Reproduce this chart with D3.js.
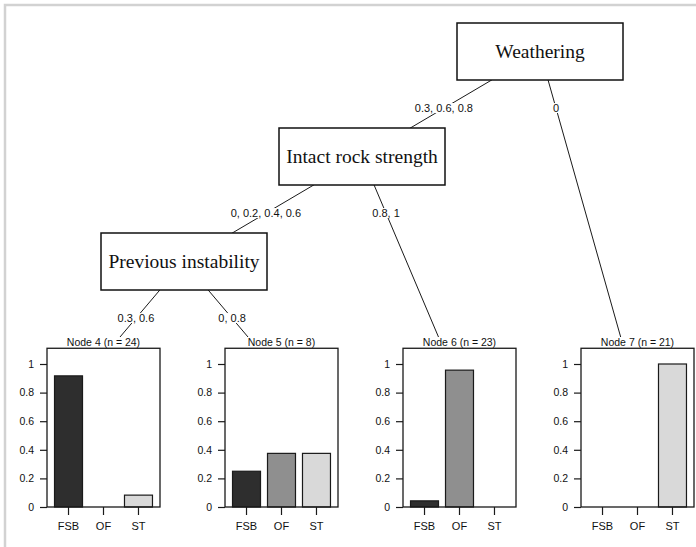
<!DOCTYPE html>
<html>
<head>
<meta charset="utf-8">
<script src="https://cdn.jsdelivr.net/npm/d3@7"></script>
<style>
	body { margin: 0; background: #fff; }
	svg { display: block; }
	.edgeLabel, .tick text, .nodeTitle { font-family: "Liberation Sans", Arial, sans-serif; fill: #111; }
	.splitName { font-family: "Liberation Serif", "Times New Roman", serif; fill: #111; }
</style>
</head>
<body>
<div id="chart"></div>
<script>
// split variables and edge labels (left / right kid of each inner node)
var splitVars = ["Weathering", "Intact rock strength", "Previous instability"];
var leftLabels = ["0.3, 0.6, 0.8", "0, 0.2, 0.4, 0.6", "0.3, 0.6"];
var rightLabels = ["0", "0.8, 1", "0, 0.8"];

// terminal nodes
var classes = ["FSB", "OF", "ST"];
var terminalIds = [4, 5, 6, 7];
var terminalN = [24, 8, 23, 21];
var fsbProp = [0.917, 0.25, 0.043, 0];
var ofProp = [0, 0.375, 0.957, 0];
var stProp = [0.083, 0.375, 0, 1];
var yTicks = [0, 0.2, 0.4, 0.6, 0.8, 1];

var width = 696,
	height = 547;

var boxW = 166,
	boxH = 57;

var color = d3.scaleOrdinal()
	.domain(classes)
	.range(["#2e2e2e", "#8f8f8f", "#d9d9d9"]);

// tree built from the arrays above
var treeData = {name: splitVars[0], children: [
	{edge: leftLabels[0], name: splitVars[1], children: [
		{edge: leftLabels[1], name: splitVars[2], children: [
			{edge: leftLabels[2], leaf: 0},
			{edge: rightLabels[2], leaf: 1}
		]},
		{edge: rightLabels[1], leaf: 2}
	]},
	{edge: rightLabels[0], leaf: 3}
]};

var root = d3.hierarchy(treeData);
var nLeaves = root.leaves().length;

// horizontal units = terminal nodes, vertical units = tree levels
var xUnit = d3.scaleLinear().domain([0, nLeaves]).range([6, 718]);
var yLevel = d3.scaleLinear().domain([0, 3]).range([51.5, 366.5]);

// position nodes the way partykit does
function place(node, x0, x1) {
	var kids = node.children;
	if (!kids) {
		node.ux = (x0 + x1) / 2;
		node.uy = 3;
		return;
	}
	var w = kids.map(function(k) { return k.leaves().length; });
	var total = d3.sum(w);
	node.ux = x0 + w[0] / total * (x1 - x0);
	node.uy = node.depth;
	var start = x0;
	kids.forEach(function(k, i) {
		var end = start + w[i] / total * (x1 - x0);
		place(k, start, end);
		start = end;
	});
}
place(root, 0, nLeaves);

var svg = d3.select('#chart').append('svg')
	.attr('width', width)
	.attr('height', height);

var links = root.links();

// edges
svg.append('g').selectAll('line')
	.data(links)
	.enter().append('line')
	.attr('x1', function(d) { return xUnit(d.source.ux); })
	.attr('y1', function(d) { return yLevel(d.source.uy); })
	.attr('x2', function(d) { return xUnit(d.target.ux); })
	.attr('y2', function(d) { return yLevel(d.target.uy); })
	.attr('stroke', '#1a1a1a')
	.attr('stroke-width', 1);

// white terminal viewports hide the ends of the edges
var leaves = root.leaves();
var panelTop = 337;
svg.append('g').selectAll('rect')
	.data(leaves)
	.enter().append('rect')
	.attr('x', function(d) { return xUnit(d.ux - 0.5); })
	.attr('y', panelTop)
	.attr('width', xUnit(1) - xUnit(0))
	.attr('height', height - panelTop)
	.attr('fill', '#fff');

// edge labels
var labels = svg.append('g').selectAll('g')
	.data(links)
	.enter().append('g')
	.attr('transform', function(d) {
		var x0 = xUnit(d.source.ux), y0 = yLevel(d.source.uy);
		var x1 = xUnit(d.target.ux), y1 = yLevel(d.target.uy);
		var yl = yLevel(d.source.uy + 0.54);
		var xl = x0 + (x1 - x0) * (yl - y0) / (y1 - y0);
		return 'translate(' + xl + ',' + yl + ')';
	});

labels.append('text')
	.attr('class', 'edgeLabel')
	.attr('text-anchor', 'middle')
	.attr('dy', '0.35em')
	.style('font-size', '11px')
	.text(function(d) { return d.target.data.edge; });

labels.each(function() {
	var g = d3.select(this);
	var bb = g.select('text').node().getBBox();
	g.insert('rect', 'text')
		.attr('x', bb.x - 1)
		.attr('y', bb.y + 1)
		.attr('width', bb.width + 2)
		.attr('height', bb.height - 2)
		.attr('fill', '#fff');
});

// inner nodes
var inner = svg.append('g').selectAll('g')
	.data(root.descendants().filter(function(d) { return d.children; }))
	.enter().append('g')
	.attr('transform', function(d) {
		return 'translate(' + xUnit(d.ux) + ',' + yLevel(d.uy) + ')';
	});

inner.append('rect')
	.attr('x', -boxW / 2)
	.attr('y', -boxH / 2)
	.attr('width', boxW)
	.attr('height', boxH)
	.attr('fill', '#fff')
	.attr('stroke', '#111')
	.attr('stroke-width', 1.5);

inner.append('text')
	.attr('class', 'splitName')
	.attr('text-anchor', 'middle')
	.attr('dy', '0.32em')
	.style('font-size', '19.5px')
	.text(function(d) { return d.data.name; });

// terminal bar plots
var yBar = d3.scaleLinear().domain([0, 1]).range([507, 364]);
var boxTop = yBar(1.11);

leaves.forEach(function(leaf) {
	var i = leaf.data.leaf;
	var left = xUnit(leaf.ux - 0.5) + 41,
		right = xUnit(leaf.ux - 0.5) + 154;
	var props = [fsbProp[i], ofProp[i], stProp[i]];

	var xBand = d3.scaleBand()
		.domain(classes)
		.range([left, right])
		.paddingInner(0.2)
		.paddingOuter(0.215);

	var panel = svg.append('g');

	panel.append('text')
		.attr('class', 'nodeTitle')
		.attr('x', (left + right) / 2)
		.attr('y', boxTop - 2)
		.attr('text-anchor', 'middle')
		.style('font-size', '10.5px')
		.text('Node ' + terminalIds[i] + ' (n = ' + terminalN[i] + ')');

	panel.selectAll('.bar')
		.data(props)
		.enter().append('rect')
		.attr('class', 'bar')
		.attr('x', function(d, j) { return xBand(classes[j]); })
		.attr('y', function(d) { return yBar(d); })
		.attr('width', xBand.bandwidth())
		.attr('height', function(d) { return yBar(0) - yBar(d); })
		.attr('fill', function(d, j) { return color(classes[j]); })
		.attr('stroke', function(d) { return d > 0 ? '#1a1a1a' : 'none'; })
		.attr('stroke-width', 1.2);

	panel.append('rect')
		.attr('x', left)
		.attr('y', boxTop)
		.attr('width', right - left)
		.attr('height', yBar(0) - boxTop)
		.attr('fill', 'none')
		.attr('stroke', '#1a1a1a')
		.attr('stroke-width', 1.3);

	var yAxis = panel.append('g')
		.attr('transform', 'translate(' + left + ',0)')
		.call(d3.axisLeft(yBar).tickValues(yTicks).tickSize(7).tickPadding(6).tickFormat(d3.format('~g')));

	var xAxis = panel.append('g')
		.attr('transform', 'translate(0,' + yBar(0) + ')')
		.call(d3.axisBottom(xBand).tickSize(8).tickPadding(7));

	[yAxis, xAxis].forEach(function(ax) {
		ax.select('.domain').remove();
		ax.selectAll('.tick line').attr('stroke', '#1a1a1a').attr('stroke-width', 1.2);
		ax.selectAll('.tick text').attr('fill', '#111')
			.style('font-family', '"Liberation Sans", Arial, sans-serif');
	});
	yAxis.selectAll('.tick text').style('font-size', '10.5px');
	xAxis.selectAll('.tick text').style('font-size', '11px');
});

// light frame on top and left, drawn last so nothing hides it
svg.append('path')
	.attr('d', 'M5,' + height + 'V5H' + width)
	.attr('fill', 'none')
	.attr('stroke', '#d2d2d2')
	.attr('stroke-width', 2.5);
</script>
</body>
</html>
